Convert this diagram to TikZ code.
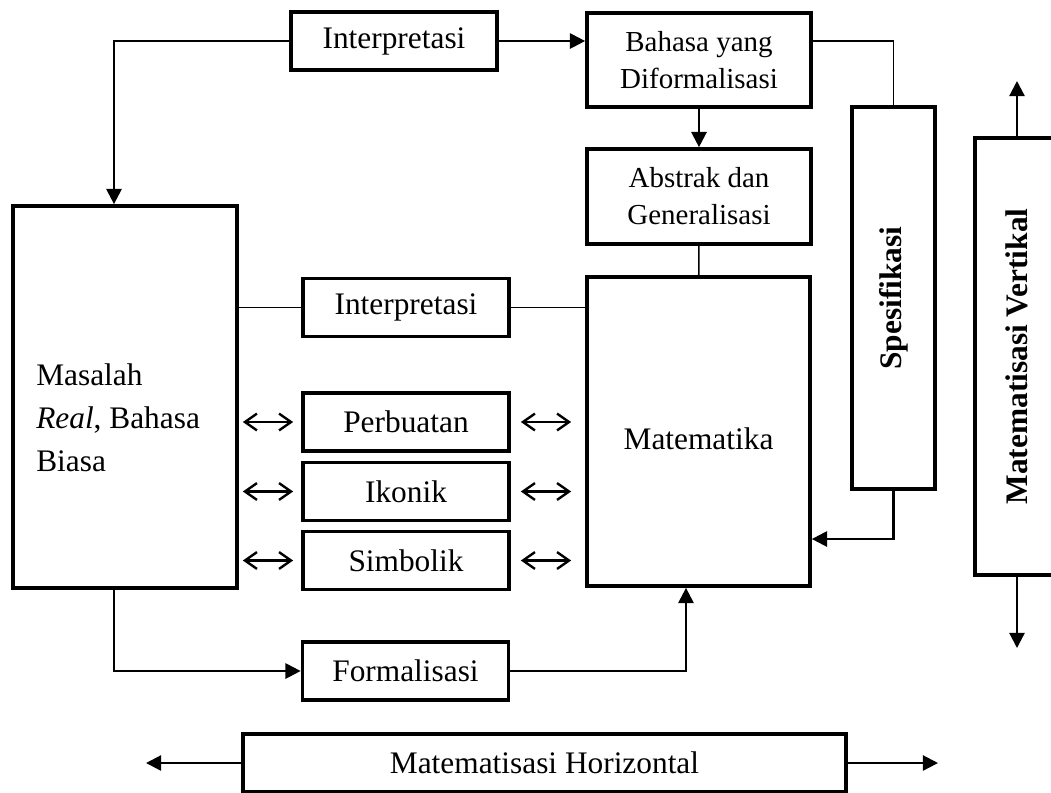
\documentclass[tikz,border=0pt]{standalone}
\usepackage{fontspec}
\setmainfont{Liberation Serif}
\usetikzlibrary{arrows.meta,positioning,calc}

\begin{document}
\begin{tikzpicture}[
        x=0.025cm, y=-0.025cm,
        box/.style={rectangle, draw=black, line width=2.6pt, inner sep=0pt, minimum width=5.15cm, minimum height=1.45cm, font=\fontsize{22.3}{27}\selectfont, align=center},
        smallbox/.style={box, minimum width=5.6cm, font=\fontsize{20.6}{26.3}\selectfont},
        tallbox/.style={box, rotate=90, font=\fontsize{22.3}{27}\selectfont\bfseries},
        arrow/.style={-{Triangle[length=0.38cm, width=0.38cm]}, line width=1.6pt},
        line/.style={line width=1.2pt},
        doublearrow/.style={{Straight Barb[length=0.3cm, width=0.42cm]}-{Straight Barb[length=0.3cm, width=0.42cm]}, line width=1.7pt}
    ]

    \useasboundingbox (0,0) rectangle (1051,792);

    % Top row: Interpretasi and formal language
    \node[box] (interpTop) at (394,41) {Interpretasi};
    \node[smallbox, minimum height=2.35cm] (bahasa) at (699,60) {Bahasa yang\\Diformalisasi};
    \node[smallbox, minimum height=2.375cm] (abstrak) at (699,196.5) {Abstrak dan\\Generalisasi};

    % Left: real problem
    \node[box, minimum width=5.6cm, minimum height=9.55cm] (masalah) at (125,397) {};
    \node[font=\fontsize{22.3}{30.6}\selectfont, align=left, anchor=west, inner sep=0pt] (masalahText) at (36,418) {Masalah\\\textit{Real}, Bahasa\\Biasa};

    % Middle column
    \node[box] (interpMid) at (406,307.5) {Interpretasi};
    \node[box] (perbuatan) at (406,422) {Perbuatan};
    \node[box] (ikonik) at (406,491.5) {Ikonik};
    \node[box] (simbolik) at (406,560.5) {Simbolik};
    \node[box] (formalisasi) at (405.5,671) {Formalisasi};

    % Right: mathematics and specification
    \node[box, minimum width=5.575cm, minimum height=7.725cm, text height=0.9cm] (matematika) at (698.5,431.5) {Matematika};
    \node[tallbox, minimum width=9.55cm, minimum height=2.075cm] (spesifikasi) at (893.5,298) {Spesifikasi};

    % Vertical and horizontal mathematisation
    \node[tallbox, minimum width=10.925cm, minimum height=2.1cm] (vertikal) at (1017,356.5) {Matematisasi Vertikal};
    \node[box, minimum width=15.075cm] (horizontal) at (544.5,763) {Matematisasi Horizontal};

    \coordinate (vUp) at (1017,81);
    \coordinate (vDown) at (1017,648);
    \coordinate (hLeft) at (146,763);
    \coordinate (hRight) at (938,763);

    % Arrows
    \draw[arrow] (interpTop.west) -| ($(masalah.north)+(-11,0)$);
    \draw[arrow] (interpTop.east) -- (interpTop.east -| bahasa.west);
    \draw[line] (interpTop.east -| bahasa.east) -| (spesifikasi.east);
    \draw[arrow] (bahasa) -- (abstrak);
    \draw[line] (abstrak) -- (matematika);
    \draw[line] (masalah.east |- interpMid) -- (interpMid);
    \draw[line] (interpMid) -- (interpMid -| matematika.west);

    \foreach \n in {perbuatan, ikonik, simbolik} {
        \draw[doublearrow, shorten <=0.1cm, shorten >=0.2cm] (masalah.east |- \n) -- (\n.west);
        \draw[doublearrow, shorten <=0.25cm, shorten >=0.35cm] (\n.east) -- (\n -| matematika.west);
    }

    \draw[arrow] (spesifikasi.west) |- ($(matematika.east)+(0,107.5)$);
    \draw[arrow] ($(masalah.south)+(-11,0)$) |- (formalisasi.west);
    \draw[arrow] (formalisasi.east) -| ($(matematika.south)+(-12.5,0)$);
    \draw[arrow] (vertikal.east) -- (vUp);
    \draw[arrow] (vertikal.west) -- (vDown);
    \draw[arrow] (horizontal.west) -- (hLeft);
    \draw[arrow] (horizontal.east) -- (hRight);

\end{tikzpicture}
\end{document}
